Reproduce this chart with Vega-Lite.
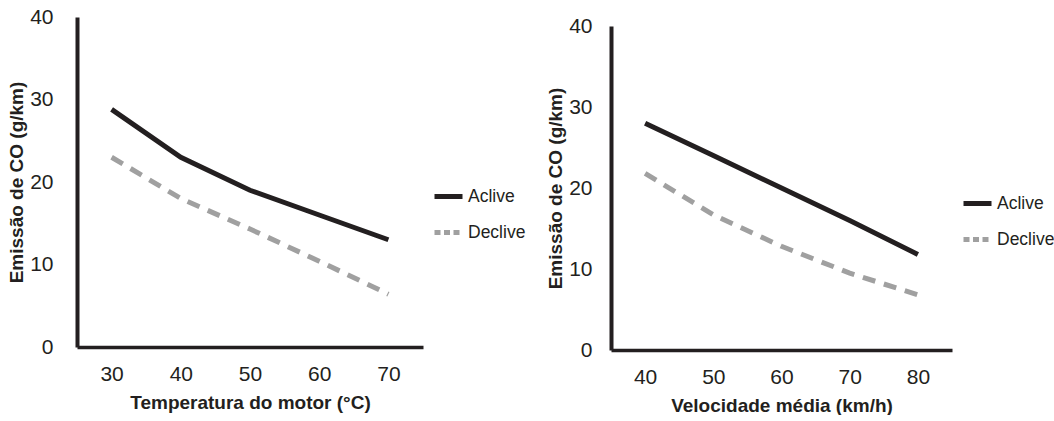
{
  "$schema": "https://vega.github.io/schema/vega-lite/v6.json",
  "padding": {"left": 7, "top": 6, "right": 0, "bottom": 0},
  "background": "white",
  "config": {
    "font": "Liberation Sans",
    "view": {"stroke": null},
    "axis": {
      "grid": false,
      "ticks": false,
      "domainColor": "#231f20",
      "labelColor": "#231f20",
      "titleColor": "#231f20",
      "labelFont": "Liberation Sans",
      "titleFont": "Liberation Sans",
      "labelFontSize": 21,
      "titleFontSize": 19,
      "titleFontWeight": "bold"
    },
    "legend": {
      "labelFont": "Liberation Sans",
      "labelFontSize": 17.5,
      "labelColor": "#231f20",
      "symbolType": "stroke",
      "symbolSize": 784,
      "symbolStrokeWidth": 5,
      "rowPadding": 9,
      "labelOffset": 3,
      "padding": 0
    }
  },
  "datasets": {
    "temp": [
      {"temperatura": 30, "serie": "Aclive", "emissao": 28.8},
      {"temperatura": 40, "serie": "Aclive", "emissao": 23},
      {"temperatura": 50, "serie": "Aclive", "emissao": 19},
      {"temperatura": 60, "serie": "Aclive", "emissao": 16},
      {"temperatura": 70, "serie": "Aclive", "emissao": 13},
      {"temperatura": 30, "serie": "Declive", "emissao": 23},
      {"temperatura": 40, "serie": "Declive", "emissao": 18},
      {"temperatura": 50, "serie": "Declive", "emissao": 14.3},
      {"temperatura": 60, "serie": "Declive", "emissao": 10.4},
      {"temperatura": 70, "serie": "Declive", "emissao": 6.4}
    ],
    "vel": [
      {"velocidade": 40, "serie": "Aclive", "emissao": 28},
      {"velocidade": 50, "serie": "Aclive", "emissao": 24},
      {"velocidade": 60, "serie": "Aclive", "emissao": 20},
      {"velocidade": 70, "serie": "Aclive", "emissao": 16},
      {"velocidade": 80, "serie": "Aclive", "emissao": 11.8},
      {"velocidade": 40, "serie": "Declive", "emissao": 21.8},
      {"velocidade": 50, "serie": "Declive", "emissao": 16.7},
      {"velocidade": 60, "serie": "Declive", "emissao": 12.8},
      {"velocidade": 70, "serie": "Declive", "emissao": 9.5},
      {"velocidade": 80, "serie": "Declive", "emissao": 6.8}
    ]
  },
  "spacing": 188,
  "bounds": "flush",
  "resolve": {"legend": {"color": "independent"}},
  "hconcat": [
    {
      "width": 346,
      "height": 330,
      "data": {"name": "temp"},
      "encoding": {
        "x": {
          "field": "temperatura", "type": "quantitative",
          "scale": {"domain": [25, 75], "nice": false, "zero": false},
          "axis": {"values": [30, 40, 50, 60, 70], "title": "Temperatura do motor (°C)", "labelPadding": 16, "titlePadding": 9, "domainWidth": 3.5}
        },
        "y": {
          "field": "emissao", "type": "quantitative",
          "scale": {"domain": [0, 40], "nice": false},
          "axis": {"values": [0, 10, 20, 30, 40], "title": "Emissão de CO (g/km)", "labelPadding": 24, "titlePadding": 3, "domainWidth": 4}
        },
        "color": {
          "field": "serie", "type": "nominal",
          "scale": {"domain": ["Aclive", "Declive"], "range": ["#231f20", "#a0a0a0"]},
          "legend": {"title": null, "orient": "none", "legendX": 355, "legendY": 163,
            "encode": {"symbols": {"update": {"strokeDash": {"signal": "datum.value === 'Declive' ? [6, 3.5] : [1, 0]"}}}}}
        }
      },
      "layer": [
        {
          "transform": [{"filter": "datum.serie === 'Aclive'"}],
          "mark": {"type": "line", "strokeWidth": 5}
        },
        {
          "transform": [{"filter": "datum.serie === 'Declive'"}],
          "mark": {"type": "line", "strokeWidth": 5, "strokeDash": [13, 9]}
        }
      ]
    },
    {
      "width": 341,
      "height": 333,
      "data": {"name": "vel"},
      "encoding": {
        "x": {
          "field": "velocidade", "type": "quantitative",
          "scale": {"domain": [35, 85], "nice": false, "zero": false},
          "axis": {"values": [40, 50, 60, 70, 80], "title": "Velocidade média (km/h)", "labelPadding": 16, "titlePadding": 9, "domainWidth": 3.5}
        },
        "y": {
          "field": "emissao", "type": "quantitative",
          "scale": {"domain": [0, 40], "nice": false, "range": [333, 9]},
          "axis": {"values": [0, 10, 20, 30, 40], "title": "Emissão de CO (g/km)", "labelPadding": 19, "titlePadding": 3, "domainWidth": 4}
        },
        "color": {
          "field": "serie", "type": "nominal",
          "scale": {"domain": ["Aclive", "Declive"], "range": ["#231f20", "#a0a0a0"]},
          "legend": {"title": null, "orient": "none", "legendX": 350, "legendY": 170,
            "encode": {"symbols": {"update": {"strokeDash": {"signal": "datum.value === 'Declive' ? [6, 3.5] : [1, 0]"}}}}}
        }
      },
      "layer": [
        {
          "transform": [{"filter": "datum.serie === 'Aclive'"}],
          "mark": {"type": "line", "strokeWidth": 5}
        },
        {
          "transform": [{"filter": "datum.serie === 'Declive'"}],
          "mark": {"type": "line", "strokeWidth": 5, "strokeDash": [13, 9]}
        }
      ]
    }
  ]
}
